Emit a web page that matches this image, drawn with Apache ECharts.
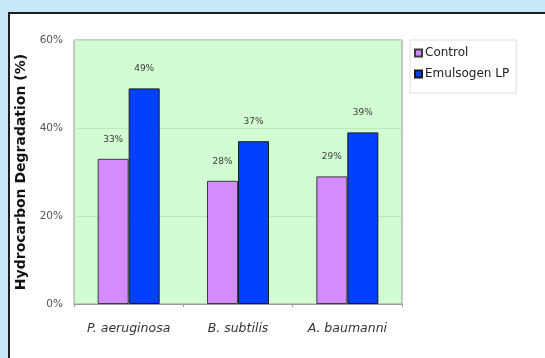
<!DOCTYPE html>
<html>
<head>
<meta charset="utf-8">
<script src="https://cdn.jsdelivr.net/npm/echarts@6/dist/echarts.min.js"></script>
<style>
  html, body { margin: 0; padding: 0; width: 545px; height: 358px; background: #c6e9f9; overflow: hidden; }
  #panel { position: absolute; left: 8px; top: 12px; right: -10px; bottom: -10px; background: #ffffff; border-left: 2px solid #1e1e1e; border-top: 2px solid #1e1e1e; }
  #chart { position: absolute; left: 0; top: 0; width: 545px; height: 358px; }
</style>
</head>
<body>
<div id="panel"></div>
<div id="chart"></div>
<script>
// Hydrocarbon degradation by strain, with and without the Emulsogen LP surfactant
const strains = ['P. aeruginosa', 'B. subtilis', 'A. baumanni'];
const controlValues = [33, 28, 29];
const emulsogenValues = [49, 37, 39];
const yTicks = [0, 20, 40, 60];

const chart = echarts.init(document.getElementById('chart'), null, { renderer: 'canvas' });
const font = 'DejaVu Sans, Verdana, sans-serif';

const barLabel = {
  show: true,
  position: 'top',
  distance: 15,
  fontFamily: font,
  fontSize: 9,
  color: '#3a3a3a',
  formatter: p => p.value + '%'
};

chart.setOption({
  animation: false,
  grid: {
    left: 74, top: 40, width: 328, height: 264,
    show: true,
    backgroundColor: '#d2fdd2',
    borderColor: '#9a9a9a',
    borderWidth: 1
  },
  legend: {
    orient: 'vertical',
    left: 410, top: 40,
    padding: [7, 7, 13, 4],
    itemWidth: 7, itemHeight: 7, itemGap: 9,
    borderColor: '#dcdcdc', borderWidth: 1,
    icon: 'rect',
    textStyle: { fontFamily: font, fontSize: 12, color: '#222', padding: [0, 0, 0, -2] },
    data: ['Control', 'Emulsogen LP']
  },
  xAxis: {
    type: 'category',
    data: strains,
    axisLine: { lineStyle: { color: '#9a9a9a' } },
    axisTick: { show: true, length: 3, lineStyle: { color: '#9a9a9a' } },
    axisLabel: { interval: 0, hideOverlap: false, fontFamily: font, fontSize: 12.5, fontStyle: 'italic', color: '#333', margin: 18 }
  },
  yAxis: {
    type: 'value',
    min: yTicks[0], max: yTicks[yTicks.length - 1], interval: 20,
    name: 'Hydrocarbon Degradation (%)',
    nameLocation: 'middle',
    nameGap: 41,
    nameTextStyle: { fontFamily: font, fontSize: 14, fontWeight: 'bold', color: '#111' },
    axisLine: { show: false },
    axisTick: { show: false },
    axisLabel: { fontFamily: font, fontSize: 10.5, color: '#555', margin: 11, formatter: v => v + '%' },
    splitLine: { lineStyle: { color: '#bfe6bf', width: 1 } }
  },
  series: [
    {
      name: 'Control', type: 'bar', data: controlValues,
      barWidth: 31, barGap: '0%',
      itemStyle: { color: '#d48bfd', borderColor: '#3c3c3c', borderWidth: 1 },
      label: barLabel
    },
    {
      name: 'Emulsogen LP', type: 'bar', data: emulsogenValues,
      barWidth: 31,
      itemStyle: { color: '#0041ff', borderColor: '#1a1a1a', borderWidth: 1 },
      label: barLabel
    }
  ]
});
</script>
</body>
</html>
